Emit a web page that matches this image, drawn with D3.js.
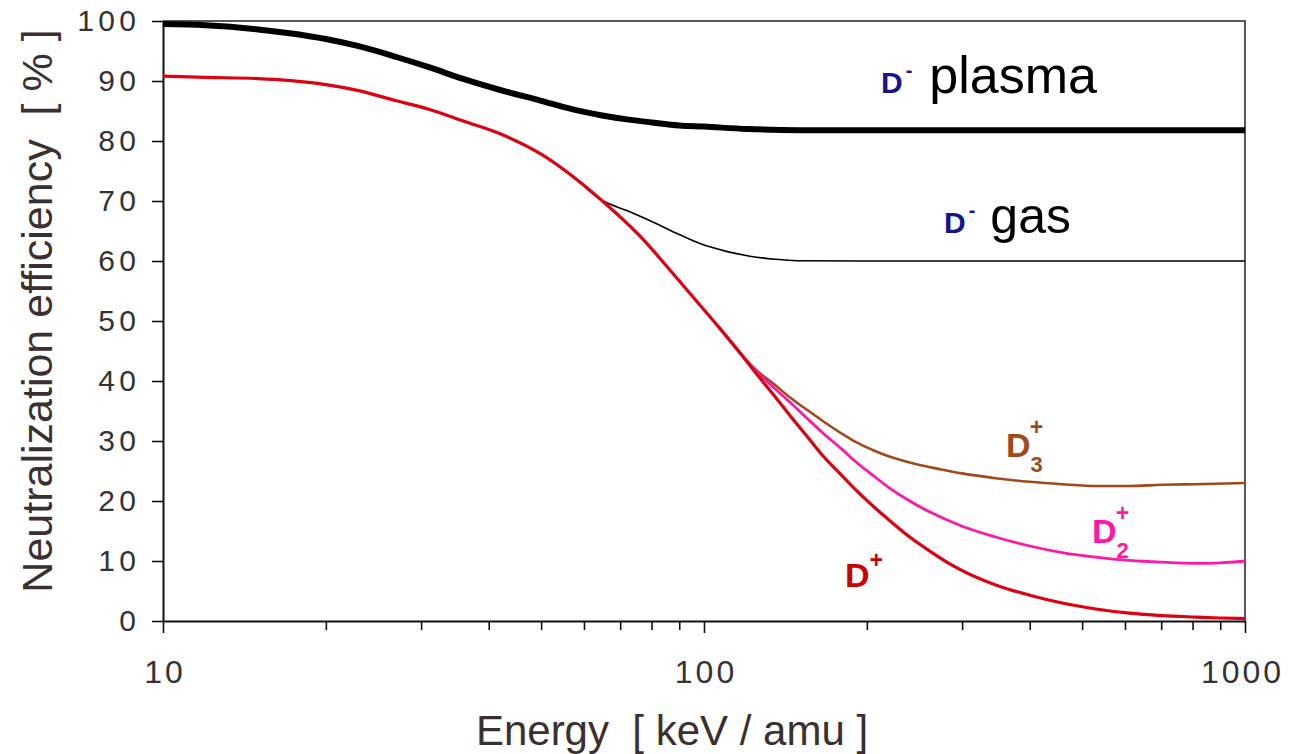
<!DOCTYPE html>
<html>
<head>
<meta charset="utf-8">
<script src="https://cdn.jsdelivr.net/npm/d3@7"></script>
<style>
  body { margin: 0; background: #fff; }
  svg { display: block; }
</style>
</head>
<body>
<div id="chart"></div>
<script>
// data (energy in keV/amu, efficiency in %)
const plasmaE = [10, 12, 15, 17, 20, 23, 27, 31, 36, 42, 50, 57, 64.5, 72, 80, 90, 100, 120, 150, 200, 1000];
const plasmaV = [99.5, 99.3, 98.6, 98, 97, 95.8, 94, 92.3, 90.3, 88.5, 86.7, 85.3, 84.3, 83.6, 83.1, 82.6, 82.4, 82, 81.8, 81.8, 81.8];

const gasE = [10, 12, 15, 17, 20, 23, 27, 31, 36, 42, 50, 57, 64.5, 72, 79.5, 90, 98.3, 110, 121.6, 135, 148.6, 200, 1000];
const gasV = [90.8, 90.6, 90.4, 90.1, 89.4, 88.4, 86.7, 85.3, 83.3, 81.2, 77.8, 74.2, 70.2, 68.4, 66.7, 64.4, 62.9, 61.6, 60.8, 60.3, 60.05, 60, 60];

const d1E = [10, 12, 15, 17, 20, 23, 27, 31, 36, 42, 50, 57, 64.5, 72, 77, 85, 95, 106, 117, 125, 135, 144, 155, 166, 180, 191, 205, 220, 240, 261, 290, 346, 400, 459, 530, 611, 700, 812, 900, 1000];
const d1V = [90.8, 90.6, 90.4, 90.1, 89.4, 88.4, 86.7, 85.3, 83.3, 81.2, 77.8, 74.2, 70.2, 66.3, 63.7, 59.3, 54.2, 49.2, 44.5, 41.2, 37.5, 34.3, 30.8, 27.5, 24.2, 21.8, 19.2, 16.8, 14, 11.7, 9.1, 6, 4.3, 3, 2, 1.3, 0.9, 0.65, 0.5, 0.4];

const d2E = [106, 117, 125, 135, 144, 155, 166, 180, 191, 205, 220, 240, 261, 300, 346, 400, 459, 534, 611, 700, 812, 900, 1000];
const d2V = [49.2, 44.5, 41.6, 38.8, 36.5, 33.8, 31.3, 28.6, 26.5, 24.3, 22.2, 20, 18.2, 15.8, 14, 12.5, 11.4, 10.6, 10.1, 9.8, 9.6, 9.7, 10];

const d3E = [106, 117, 125, 135, 144, 155, 166, 180, 191, 205, 220, 245, 273, 300, 346, 400, 459, 534, 611, 703, 812, 1000];
const d3V = [49.2, 44.5, 41.8, 39.4, 37.3, 35.2, 33.3, 31.2, 29.8, 28.5, 27.4, 26.2, 25.3, 24.6, 23.8, 23.2, 22.8, 22.5, 22.5, 22.7, 22.8, 23];

const yTicks = [0, 10, 20, 30, 40, 50, 60, 70, 80, 90, 100];
const xMajor = [10, 100, 1000];
const xMinor = [20, 30, 40, 50, 60, 70, 80, 90, 200, 300, 400, 500, 600, 700, 800, 900];

const width = 1290, height = 754;
const plotL = 163, plotR = 1245, plotT = 21, plotB = 621;
const font = "Liberation Sans, Arial, sans-serif";

const svg = d3.select("#chart").append("svg")
    .attr("width", width)
    .attr("height", height);

const x = d3.scaleLog().domain([10, 1000]).range([plotL, plotR]);
const y = d3.scaleLinear().domain([0, 100]).range([plotB, plotT]);

// frame (top & right)
svg.append("path")
    .attr("d", `M${plotL},${plotT}H${plotR}V${plotB}`)
    .attr("fill", "none")
    .attr("stroke", "#222")
    .attr("stroke-width", 1.5);

// y axis
const yAxis = svg.append("g")
    .attr("transform", `translate(${plotL},0)`)
    .call(d3.axisLeft(y).tickValues(yTicks).tickSize(11).tickPadding(16).tickSizeOuter(0));
yAxis.select(".domain").attr("stroke", "#111").attr("stroke-width", 2);
yAxis.selectAll(".tick line").attr("stroke", "#111").attr("stroke-width", 1.6);
yAxis.selectAll(".tick text")
    .attr("fill", "#333")
    .attr("font-family", font)
    .attr("font-size", 30)
    .attr("letter-spacing", 4.3)
    .attr("dx", 4.3);

// x axis: minor ticks, then major ticks with labels
const xMinorAxis = svg.append("g")
    .attr("transform", `translate(0,${plotB})`)
    .call(d3.axisBottom(x).tickValues(xMinor).tickSize(9).tickFormat("").tickSizeOuter(0));
xMinorAxis.select(".domain").remove();
xMinorAxis.selectAll(".tick line").attr("stroke", "#111").attr("stroke-width", 1.6);

const xAxis = svg.append("g")
    .attr("transform", `translate(0,${plotB})`)
    .call(d3.axisBottom(x).tickValues(xMajor).tickSize(12).tickPadding(27).tickFormat(d3.format("d")).tickSizeOuter(0));
xAxis.select(".domain").attr("stroke", "#111").attr("stroke-width", 2);
xAxis.selectAll(".tick line").attr("stroke", "#111").attr("stroke-width", 1.6);
xAxis.selectAll(".tick text")
    .attr("fill", "#333")
    .attr("font-family", font)
    .attr("font-size", 32)
    .attr("letter-spacing", 3)
    .attr("dx", d => d === 1000 ? -3 : 1.5);

// axis titles
svg.append("text")
    .attr("x", 672)
    .attr("y", 745)
    .attr("text-anchor", "middle")
    .attr("fill", "#3a3030")
    .attr("font-family", font)
    .attr("font-size", 42)
    .attr("xml:space", "preserve")
    .text("Energy  [ keV / amu ]");

svg.append("text")
    .attr("transform", "translate(52,311) rotate(-90)")
    .attr("text-anchor", "middle")
    .attr("fill", "#3a3030")
    .attr("font-family", font)
    .attr("font-size", 43)
    .attr("xml:space", "preserve")
    .text("Neutralization efficiency  [ % ]");

// curves
const line = d3.line()
    .x(d => x(d[0]))
    .y(d => y(d[1]))
    .curve(d3.curveMonotoneX);

const series = [
    { e: gasE, v: gasV, color: "#000", w: 1.6 },
    { e: plasmaE, v: plasmaV, color: "#000", w: 6 },
    { e: d3E, v: d3V, color: "#a04a1c", w: 2.6 },
    { e: d2E, v: d2V, color: "#ff18a8", w: 2.8 },
    { e: d1E, v: d1V, color: "#dd0010", w: 3.2 }
];

svg.append("g")
    .attr("fill", "none")
    .attr("stroke-linejoin", "round")
    .selectAll("path")
    .data(series)
    .join("path")
    .attr("stroke", d => d.color)
    .attr("stroke-width", d => d.w)
    .attr("d", d => line(d.e.map((e, i) => [e, d.v[i]])));

// labels
function negLabel(xp, yp, word, size, gap) {
    const t = svg.append("text")
        .attr("x", xp).attr("y", yp)
        .attr("font-family", font);
    t.append("tspan").attr("fill", "#14148c").attr("font-weight", "bold").attr("font-size", 30).text("D");
    t.append("tspan").attr("fill", "#14148c").attr("font-weight", "bold").attr("font-size", 20).attr("dx", 3).attr("dy", -16).text("-");
    t.append("tspan").attr("fill", "#000").attr("font-size", size).attr("dy", 16).attr("dx", gap).text(word);
}
negLabel(881, 93, "plasma", 52, 17);
negLabel(944, 233, "gas", 50, 15);

function ionLabel(xp, yp, color, sub) {
    const t = svg.append("text")
        .attr("x", xp).attr("y", yp)
        .attr("font-family", font)
        .attr("font-weight", "bold")
        .attr("fill", color);
    t.append("tspan").attr("font-size", 34).text("D");
    if (sub) {
        t.append("tspan").attr("font-size", 22).attr("dy", 15).text(sub);
        t.append("tspan").attr("font-size", 23).attr("dx", -13).attr("dy", -37).text("+");
    } else {
        t.append("tspan").attr("font-size", 23).attr("dy", -19).text("+");
    }
}
ionLabel(1006, 457, "#a04a1c", "3");
ionLabel(1092, 543, "#ff18a8", "2");
ionLabel(845, 587, "#cc0000", null);
</script>
</body>
</html>
